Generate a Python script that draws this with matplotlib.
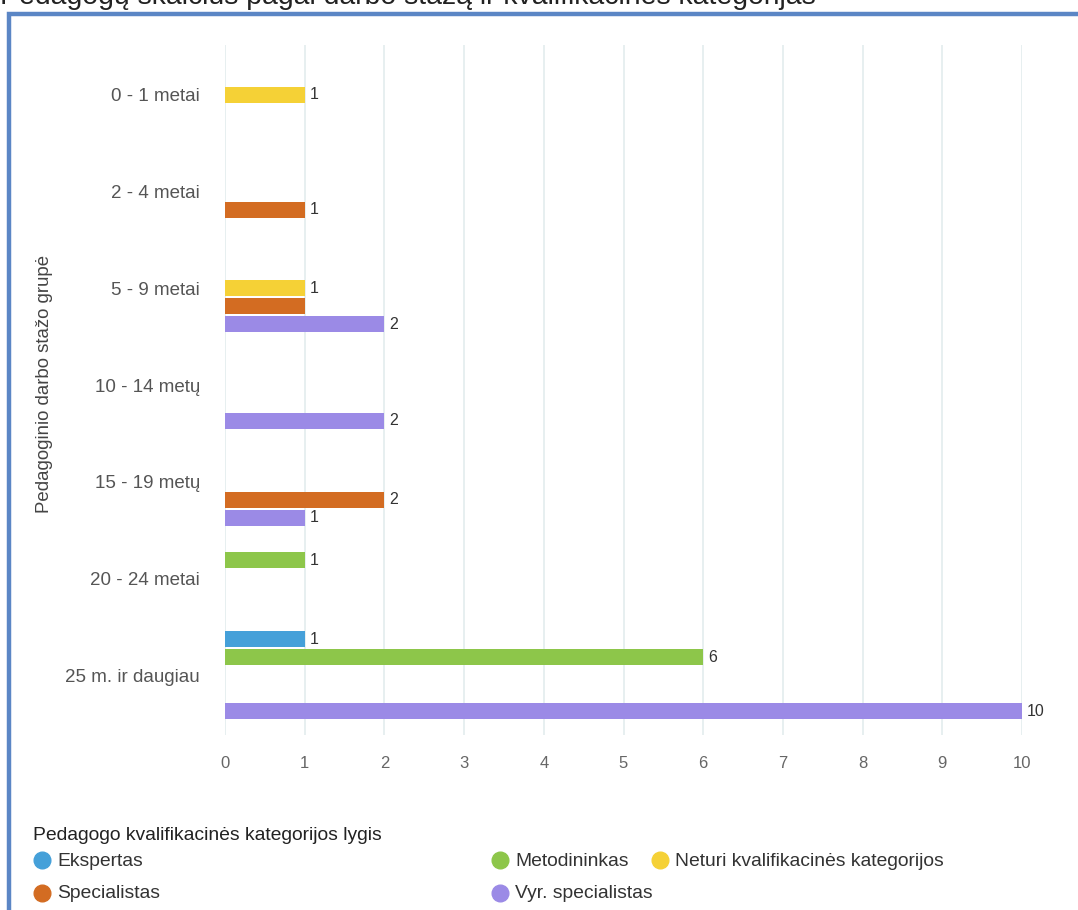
import matplotlib
matplotlib.use("Agg")
import matplotlib.pyplot as plt
import numpy as np
from matplotlib.patches import Rectangle
from matplotlib.lines import Line2D

plt.rcParams['font.family'] = ['Liberation Sans', 'DejaVu Sans']

categories = ["0 - 1 metai", "2 - 4 metai", "5 - 9 metai", "10 - 14 metų",
              "15 - 19 metų", "20 - 24 metai", "25 m. ir daugiau"]
series_names = ["Ekspertas", "Metodininkas", "Neturi kvalifikacinės kategorijos",
                "Specialistas", "Vyr. specialistas"]
ekspertas = [0, 0, 0, 0, 0, 0, 1]
metodininkas = [0, 0, 0, 0, 0, 1, 6]
neturi = [1, 0, 1, 0, 0, 0, 0]
specialistas = [0, 1, 1, 0, 2, 0, 0]
vyr_specialistas = [0, 0, 2, 2, 1, 0, 10]
x_ticks = [0, 1, 2, 3, 4, 5, 6, 7, 8, 9, 10]

values = [ekspertas, metodininkas, neturi, specialistas, vyr_specialistas]
colors = ["#45a0d9", "#8dc64a", "#f5d136", "#d36c22", "#9b8ae6"]

W, H = 1078, 910
fig = plt.figure(figsize=(W / 100, H / 100), dpi=100)

# border
fig.add_artist(Rectangle((9 / W, -0.1), 1.2, 1 - 14 / H + 0.1, transform=fig.transFigure,
                         fill=False, edgecolor="#5b86c5", linewidth=3.2))
# title (clipped at the top edge, as in the reference)
fig.text(0.0, 1 - 4 / H, "Pedagogų skaičius pagal darbo stažą ir kvalifikacinės kategorijas",
         fontsize=20.4, color="#222222", va="baseline", ha="left")

ax = fig.add_axes([225 / W, 1 - 735 / H, (1022 - 225) / W, (735 - 45) / H])
y = np.arange(len(categories))
slot = 0.186
bh = 0.165
placed = {}
for i, (name, vals, c) in enumerate(zip(series_names, values, colors)):
    off = (i - 2) * slot
    for j, v in enumerate(vals):
        if v > 0:
            ax.barh(y[j] + off, v, height=bh, color=c, zorder=3)
            # hide a label that would collide with the one in the slot just above
            if placed.get((j, i - 1)) == v:
                continue
            placed[(j, i)] = v
            ax.text(v + 0.06, y[j] + off, str(v), va="center", ha="left",
                    fontsize=11.5, color="#333333", zorder=4)

ax.set_xlim(0, 10)
ax.set_ylim(6.62, -0.517)
ax.set_xticks(x_ticks)
ax.set_xticklabels([str(t) for t in x_ticks])
ax.set_yticks(y)
ax.set_yticklabels(categories)
ax.tick_params(axis="both", length=0, colors="#666666")
ax.tick_params(axis="x", pad=15, labelsize=12)
ax.tick_params(axis="y", pad=18, labelsize=13.5)
for lab in ax.get_yticklabels():
    lab.set_color("#555555")
for s in ax.spines.values():
    s.set_visible(False)
ax.grid(axis="x", color="#e3ecee", linewidth=1.2, zorder=0)
ax.set_axisbelow(True)

fig.text(45 / W, 1 - 384 / H, "Pedagoginio darbo stažo grupė", rotation=90,
         ha="center", va="center", fontsize=13.4, color="#444444")

# legend
fig.text(33 / W, 1 - 835 / H, "Pedagogo kvalifikacinės kategorijos lygis",
         fontsize=13.9, color="#222222", va="center", ha="left")
pos = [(42, 860), (500, 860), (660, 860), (42, 893), (500, 893)]
for (px, py), name, c in zip(pos, series_names, colors):
    fig.add_artist(Line2D([px / W], [1 - py / H], marker="o", markersize=12,
                          color=c, linestyle="none", transform=fig.transFigure))
    fig.text((px + 15) / W, 1 - (py + 1) / H, name, fontsize=13.9, color="#333333",
             va="center", ha="left")

fig.savefig("out.png", dpi=100)
